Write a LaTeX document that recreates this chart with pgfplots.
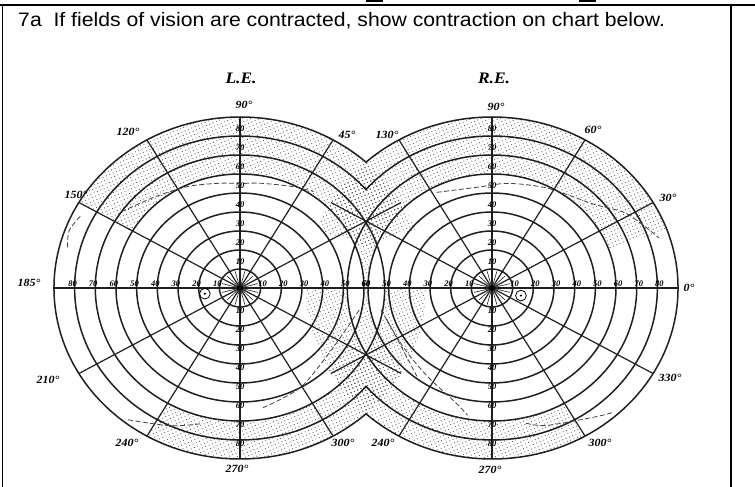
\documentclass[border=0pt]{standalone}
\usepackage{fontspec}
\setmainfont{Liberation Sans}
\newfontfamily\chartserif{Liberation Serif}
\usepackage{pgfplots}
\pgfplotsset{compat=1.18}
\usetikzlibrary{patterns.meta}

\pgfplotsset{
  eye/.style={
    anchor=center, x=2.067pt, y=1.9pt,
    xmin=-100, xmax=100, ymin=-100, ymax=100,
    hide axis, clip=false,
  },
}
\tikzset{
  ring/.style={line width=1.5pt, black!88},
  spoke/.style={line width=1.2pt, black!88},
  stip/.style={pattern={Dots[distance=3.6pt, radius=0.6pt, angle=23]}, pattern color=black!65},
  contr/.style={line width=0.8pt, black!75, dash pattern=on 5pt off 2.5pt},
  lab/.style={font=\chartserif\bfseries\itshape\fontsize{8.5}{8.5}\selectfont, inner sep=0pt},
  deg/.style={font=\chartserif\bfseries\itshape\fontsize{11}{11}\selectfont, inner sep=0pt, xscale=1.09},
}

\begin{document}
\begin{tikzpicture}[x=1pt,y=1pt]
\useasboundingbox (0,0) rectangle (755,487);
\clip (0,0) rectangle (755,487);

% ---------------- Left eye ----------------
\begin{axis}[eye, at={(240pt,199pt)}]
  % stipple: upper band
  \begin{scope}
    \clip (axis cs:0,0) -- (axis cs:{150*cos(20)},{150*sin(20)}) -- (axis cs:{150*cos(60)},{150*sin(60)}) -- (axis cs:0,150) -- (axis cs:{150*cos(120)},{150*sin(120)}) -- (axis cs:{150*cos(150)},{150*sin(150)}) -- cycle;
    \fill[stip, even odd rule] (axis cs:0,0) ellipse[x radius=90,y radius=90] (axis cs:0,0) ellipse[x radius=60,y radius=60];
  \end{scope}
  % stipple: lower band
  \begin{scope}
    \clip (axis cs:0,0) -- (axis cs:{150*cos(240)},{150*sin(240)}) -- (axis cs:0,-150) -- (axis cs:{150*cos(300)},{150*sin(300)}) -- (axis cs:{150*cos(330)},{150*sin(330)}) -- (axis cs:150,0) -- cycle;
    \fill[stip, even odd rule] (axis cs:0,0) ellipse[x radius=90,y radius=90] (axis cs:0,0) ellipse[x radius=70,y radius=70];
  \end{scope}
  % stipple: overlap lens
  \begin{scope}
    \clip (axis cs:0,0) ellipse[x radius=90,y radius=90];
    \clip (axis cs:121.9,0) ellipse[x radius=90,y radius=90];
    \fill[stip, even odd rule] (axis cs:-100,-100) rectangle (axis cs:250,100) (axis cs:0,0) ellipse[x radius=60,y radius=60] (axis cs:121.9,0) ellipse[x radius=60,y radius=60];
  \end{scope}
  % rings
  \pgfplotsinvokeforeach{10,20,...,70}{\draw[ring] (axis cs:0,0) ellipse[x radius=#1,y radius=#1];}
  \begin{scope}
    \clip (axis cs:-120,-120) rectangle (axis cs:60.96,120);
    \draw[ring] (axis cs:0,0) ellipse[x radius=80,y radius=80];
    \draw[ring] (axis cs:0,0) ellipse[x radius=90,y radius=90];
  \end{scope}
  % spokes
  \pgfplotsinvokeforeach{0,30,...,330}{\draw[spoke] (axis cs:0,0) -- (axis cs:{90*cos(#1)},{90*sin(#1)});}
  \pgfplotsinvokeforeach{15,45,...,345}{\draw[spoke, line width=0.6pt] (axis cs:0,0) -- (axis cs:{9*cos(#1)},{9*sin(#1)});}
  \fill (axis cs:0,0) ellipse[x radius=1.5,y radius=1.5];
  % blind spot
  \draw[line width=0.8pt] (axis cs:-17,-3) ellipse[x radius=2.6,y radius=2.8];
  \fill (axis cs:-17,-3) ellipse[x radius=0.6,y radius=0.6];
  % scale labels
  \pgfplotsinvokeforeach{10,20,...,80}{
    \node[lab] at (axis cs:0,#1+4) {#1};
    \node[lab] at (axis cs:0,-#1-2) {#1};
    \node[lab, anchor=south] at (axis cs:-#1-1,0.6) {#1};
  }
  \pgfplotsinvokeforeach{10,20,...,60}{\node[lab, anchor=south] at (axis cs:#1+1,0.6) {#1};}
  % contraction lines
  \addplot[contr, data cs=polar, smooth] coordinates {(145,70) (130,63) (115,59) (100,56) (90,55) (80,56) (65,59) (55,62)};
  \addplot[contr, data cs=polar, smooth] coordinates {(232,88) (245,80) (255,74)};
  \addplot[contr, data cs=polar, smooth] coordinates {(280,64) (299,60) (322,55) (349,59)};
  \addplot[contr, data cs=polar, smooth] coordinates {(154,86) (160,88) (166,86)};
\end{axis}

% ---------------- Right eye ----------------
\begin{axis}[eye, at={(492pt,199pt)}]
  \begin{scope}
    \clip (axis cs:0,0) -- (axis cs:{150*cos(20)},{150*sin(20)}) -- (axis cs:{150*cos(60)},{150*sin(60)}) -- (axis cs:0,150) -- (axis cs:{150*cos(120)},{150*sin(120)}) -- (axis cs:{150*cos(160)},{150*sin(160)}) -- cycle;
    \fill[stip, even odd rule] (axis cs:0,0) ellipse[x radius=90,y radius=90] (axis cs:0,0) ellipse[x radius=60,y radius=60];
  \end{scope}
  \begin{scope}
    \clip (axis cs:0,0) -- (axis cs:-150,0) -- (axis cs:{150*cos(210)},{150*sin(210)}) -- (axis cs:{150*cos(240)},{150*sin(240)}) -- (axis cs:0,-150) -- (axis cs:{150*cos(300)},{150*sin(300)}) -- cycle;
    \fill[stip, even odd rule] (axis cs:0,0) ellipse[x radius=90,y radius=90] (axis cs:0,0) ellipse[x radius=70,y radius=70];
  \end{scope}
  \pgfplotsinvokeforeach{10,20,...,70}{\draw[ring] (axis cs:0,0) ellipse[x radius=#1,y radius=#1];}
  \begin{scope}
    \clip (axis cs:-60.96,-120) rectangle (axis cs:120,120);
    \draw[ring] (axis cs:0,0) ellipse[x radius=80,y radius=80];
    \draw[ring] (axis cs:0,0) ellipse[x radius=90,y radius=90];
  \end{scope}
  \pgfplotsinvokeforeach{0,30,...,330}{\draw[spoke] (axis cs:0,0) -- (axis cs:{90*cos(#1)},{90*sin(#1)});}
  \pgfplotsinvokeforeach{15,45,...,345}{\draw[spoke, line width=0.6pt] (axis cs:0,0) -- (axis cs:{9*cos(#1)},{9*sin(#1)});}
  \fill (axis cs:0,0) ellipse[x radius=1.5,y radius=1.5];
  \draw[line width=0.8pt] (axis cs:14,-4) ellipse[x radius=2.6,y radius=2.8];
  \fill (axis cs:14,-4) ellipse[x radius=0.6,y radius=0.6];
  \pgfplotsinvokeforeach{10,20,...,80}{
    \node[lab] at (axis cs:0,#1+4) {#1};
    \node[lab] at (axis cs:0,-#1-2) {#1};
    \node[lab, anchor=south] at (axis cs:#1+1,0.6) {#1};
  }
  \pgfplotsinvokeforeach{10,20,...,60}{\node[lab, anchor=south] at (axis cs:-#1-1,0.6) {#1};}
  \addplot[contr, data cs=polar, smooth] coordinates {(118,57) (98,53.5) (82,55.6) (63,59) (42,66) (31,76) (18,85)};
  \addplot[contr, data cs=polar, smooth] coordinates {(192,55) (216,53) (236,56) (254,63) (260,68)};
  \addplot[contr, data cs=polar, smooth] coordinates {(283,73) (290,77) (306,84) (312,88)};
  \addplot[contr, data cs=polar, smooth] coordinates {(198,53.5) (232,59)};
\end{axis}

% ---------------- frame and text ----------------
\draw[line width=2pt] (0,482) -- (755,482);
\draw[line width=1.6pt] (2.5,0) -- (2.5,482);
\draw[line width=1.6pt] (731,0) -- (731,482);
\fill (366,484.5) rectangle (383,487);
\fill (579,484.5) rectangle (596,487);

\node[anchor=base west, inner sep=0pt, xscale=1.087, font=\fontsize{19.5}{20}\selectfont] at (18,460) {7a\ \ If fields of vision are contracted, show contraction on chart below.};

\node[font=\chartserif\bfseries\itshape\fontsize{16}{16}\selectfont, xscale=1.09] at (241,409) {L.E.};
\node[font=\chartserif\bfseries\itshape\fontsize{16}{16}\selectfont, xscale=1.09] at (494,409) {R.E.};

% left eye degree labels (pixel coords, y flipped)
\node[deg] at (244,382) {90°};
\node[deg] at (128,355) {120°};
\node[deg] at (347,352) {45°};
\node[deg] at (76,292) {150°};
\node[deg] at (29,204) {185°};
\node[deg] at (48,107) {210°};
\node[deg] at (127,44) {240°};
\node[deg] at (237,18) {270°};
\node[deg] at (343,44) {300°};
% right eye degree labels
\node[deg] at (496,380) {90°};
\node[deg] at (387,352) {130°};
\node[deg] at (593,357) {60°};
\node[deg] at (668,289) {30°};
\node[deg] at (689,199) {0°};
\node[deg] at (670,109) {330°};
\node[deg] at (600,44) {300°};
\node[deg] at (490,17) {270°};
\node[deg] at (383,44) {240°};
\end{tikzpicture}
\end{document}
